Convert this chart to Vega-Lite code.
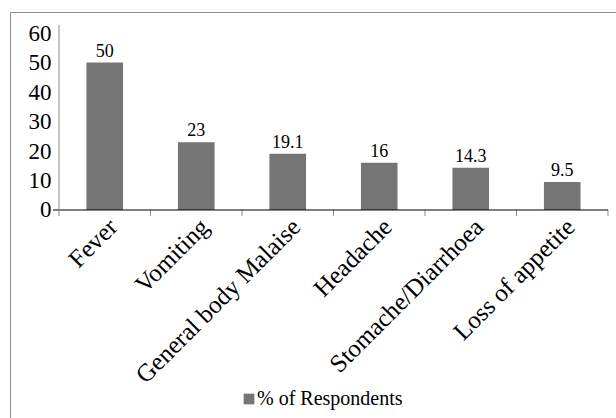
{
  "$schema": "https://vega.github.io/schema/vega-lite/v6.json",
  "width": 606,
  "height": 406,
  "autosize": "none",
  "padding": {"left": 10, "top": 12, "right": 0, "bottom": 0},
  "background": "white",
  "config": {
    "view": {"stroke": "#8a8a8a", "strokeWidth": 1},
    "font": "Liberation Serif"
  },
  "data": {
    "values": [
      {"symptom": "Fever", "value": 50, "label": "50", "series": "% of Respondents"},
      {"symptom": "Vomiting", "value": 23, "label": "23", "series": "% of Respondents"},
      {"symptom": "General body Malaise", "value": 19.1, "label": "19.1", "series": "% of Respondents"},
      {"symptom": "Headache", "value": 16, "label": "16", "series": "% of Respondents"},
      {"symptom": "Stomache/Diarrhoea", "value": 14.3, "label": "14.3", "series": "% of Respondents"},
      {"symptom": "Loss of appetite", "value": 9.5, "label": "9.5", "series": "% of Respondents"}
    ]
  },
  "layer": [
    {
      "mark": {"type": "bar"},
      "encoding": {
        "x": {
          "field": "symptom", "type": "nominal", "sort": null,
          "scale": {"paddingInner": 0.6, "paddingOuter": 0.6115, "align": 0.683},
          "axis": {
            "title": null, "orient": "bottom", "offset": -208, "domain": false, "ticks": false,
            "labelAngle": -45, "labelAlign": "right", "labelBaseline": "top",
            "labelFontSize": 25, "labelColor": "#000", "labelPadding": 4,
            "labelFont": "Liberation Serif", "labelLimit": 400
          }
        },
        "y": {
          "field": "value", "type": "quantitative",
          "scale": {"domain": [-70.51, 67.12], "nice": false, "zero": false},
          "axis": {
            "title": null, "orient": "left", "offset": -49, "domain": false, "ticks": false, "grid": false,
            "values": [0, 10, 20, 30, 40, 50, 60], "labelFontSize": 23, "labelColor": "#000",
            "labelPadding": 8, "labelFont": "Liberation Serif"
          }
        },
        "y2": {"datum": 0},
        "color": {
          "field": "series", "type": "nominal",
          "scale": {"range": ["#757575"]},
          "legend": {
            "title": null, "orient": "none", "legendX": 229, "legendY": 377,
            "symbolType": "square", "symbolSize": 115, "symbolStrokeWidth": 0,
            "labelFontSize": 20, "labelColor": "#000", "labelFont": "Liberation Serif",
            "labelOffset": -2, "padding": 0, "labelLimit": 300
          }
        }
      }
    },
    {
      "mark": {"type": "text", "baseline": "bottom", "dy": -2, "fontSize": 18, "font": "Liberation Serif", "color": "#000"},
      "encoding": {
        "x": {"field": "symptom", "type": "nominal", "sort": null},
        "y": {"field": "value", "type": "quantitative"},
        "text": {"field": "label"}
      }
    },
    {
      "mark": {"type": "rule", "color": "#8a8a8a", "strokeWidth": 1},
      "encoding": {
        "x": {"field": "symptom", "type": "nominal", "sort": null, "bandPosition": 1.75},
        "y": {"datum": 0, "type": "quantitative"},
        "y2": {"datum": -2.03}
      }
    },
    {
      "data": {"values": [{}]},
      "mark": {"type": "rule", "color": "#000", "strokeWidth": 1},
      "encoding": {
        "x": {"datum": "Fever", "type": "nominal", "bandPosition": -0.914},
        "x2": {"datum": "Loss of appetite", "bandPosition": 1.75},
        "y": {"datum": 0, "type": "quantitative"}
      }
    },
    {
      "data": {"values": [{}]},
      "mark": {"type": "rule", "color": "#8a8a8a", "strokeWidth": 1},
      "encoding": {
        "x": {"datum": "Fever", "type": "nominal", "bandPosition": -0.75},
        "y": {"datum": -2.03, "type": "quantitative"},
        "y2": {"datum": 62.7}
      }
    }
  ]
}
